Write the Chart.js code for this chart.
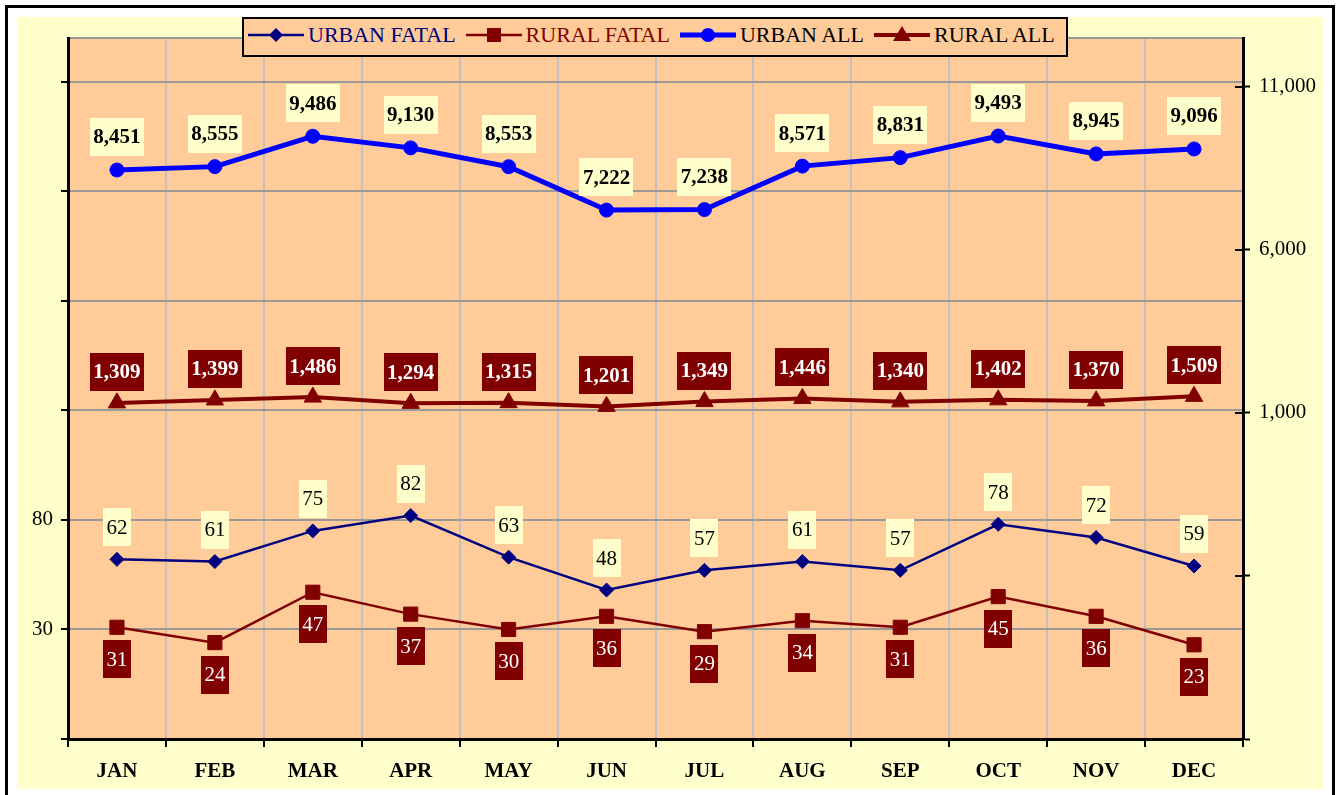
<!DOCTYPE html>
<html><head><meta charset="utf-8">
<script src="https://cdn.jsdelivr.net/npm/chart.js@4.4.1/dist/chart.umd.min.js"></script>
<style>
html,body{margin:0;padding:0;background:#fff;width:1336px;height:795px;overflow:hidden;}
#wrap{position:relative;width:1336px;height:795px;}
#c{position:absolute;left:0;top:0;}
#legend{position:absolute;left:242px;top:17px;width:818px;height:36px;border:2px solid #000;background:#FFCC99;
  font-family:"Liberation Serif","Times New Roman",serif;font-size:22px;display:flex;align-items:flex-start;padding-left:4px;box-sizing:content-box;overflow:hidden;}
#legend .item{display:flex;align-items:center;height:24px;margin-top:4px;margin-right:10px;white-space:nowrap;}
#legend svg{display:block;margin-right:4px;}
</style>
</head><body>
<div id="wrap">
<canvas id="c" width="1336" height="795"></canvas>
<div id="legend"></div>
</div>
<script>
const MONTHS = ['JAN','FEB','MAR','APR','MAY','JUN','JUL','AUG','SEP','OCT','NOV','DEC'];
const URBAN_FATAL = [62,61,75,82,63,48,57,61,57,78,72,59];
const RURAL_FATAL = [31,24,47,37,30,36,29,34,31,45,36,23];
const URBAN_ALL = [8451,8555,9486,9130,8553,7222,7238,8571,8831,9493,8945,9096];
const RURAL_ALL = [1309,1399,1486,1294,1315,1201,1349,1446,1340,1402,1370,1509];
const SERIES_NAMES = ['URBAN FATAL','RURAL FATAL','URBAN ALL','RURAL ALL'];
const LEFT_TICKS = [-20,30,80,130,180,230,280,300];
const LEFT_LABELS = [30,80];
const RIGHT_TICKS = [-9000,-4000,1000,6000,11000];
const RIGHT_LABELS = [1000,6000,11000];

const FONT = '"Liberation Serif","Times New Roman",serif';
const NAVY='#000080', DRED='#800000', BLUE='#0000FF';

const styles = [
  {color:NAVY, width:2.5, point:'rectRot', radius:7, text:NAVY,  lbBg:'#FFFFCC', lbColor:'#000', lbWeight:'normal', lbPos:'above', gap:13},
  {color:DRED, width:2.5, point:'rect',    radius:10, text:DRED, lbBg:DRED, lbColor:'#fff', lbWeight:'normal', lbPos:'below', gap:13},
  {color:BLUE, width:5,   point:'circle',  radius:7, text:'#000', lbBg:'#FFFFCC', lbColor:'#000', lbWeight:'bold', lbPos:'above', gap:14},
  {color:DRED, width:4,   point:'triangle',radius:10, text:'#000', lbBg:DRED, lbColor:'#fff', lbWeight:'bold', lbPos:'above', gap:12}
];
const seriesData = [URBAN_FATAL, RURAL_FATAL, URBAN_ALL, RURAL_ALL];
const axisIds = ['y','y','y1','y1'];

// HTML legend
const legendEl = document.getElementById('legend');
const markerSvg = (s) => {
  let m = '';
  if (s.point==='rectRot') m = '<polygon points="28,5 35,12 28,19 21,12" fill="'+s.color+'"/>';
  else if (s.point==='rect') m = '<rect x="21" y="5" width="14" height="14" fill="'+s.color+'"/>';
  else if (s.point==='circle') m = '<circle cx="28" cy="12" r="7" fill="'+s.color+'"/>';
  else m = '<polygon points="28,3 37,18 19,18" fill="'+s.color+'"/>';
  return '<svg width="56" height="24"><line x1="0" y1="12" x2="56" y2="12" stroke="'+s.color+'" stroke-width="'+s.width+'"/>'+m+'</svg>';
};
SERIES_NAMES.forEach((n,i)=>{
  const d = document.createElement('div'); d.className='item';
  d.innerHTML = markerSvg(styles[i]) + '<span style="color:'+styles[i].text+'">'+n+'</span>';
  legendEl.appendChild(d);
});

const framePlugin = {
  id:'frame',
  beforeDraw(chart){
    const ctx = chart.ctx, a = chart.chartArea;
    ctx.save();
    ctx.fillStyle='#fff'; ctx.fillRect(0,0,chart.width,chart.height);
    ctx.strokeStyle='#000'; ctx.lineWidth=3; ctx.strokeRect(6.5,6.5,1327,800);
    ctx.fillStyle='#FFFFCC'; ctx.fillRect(17,17,1306,772);
    ctx.fillStyle='#FFCC99'; ctx.fillRect(a.left,a.top,a.right-a.left,a.bottom-a.top);
    ctx.restore();
  },
  afterDraw(chart){
    const ctx = chart.ctx, s = chart.scales.y1;
    ctx.save(); ctx.strokeStyle='#000'; ctx.lineWidth=2;
    s.ticks.forEach(t=>{ const y = Math.round(s.getPixelForValue(t.value));
      ctx.beginPath(); ctx.moveTo(s.left-8,y); ctx.lineTo(s.left,y); ctx.stroke(); });
    ctx.restore();
  }
};

const labelPlugin = {
  id:'vlabels',
  afterDatasetsDraw(chart){
    const ctx = chart.ctx;
    ctx.save();
    chart.data.datasets.forEach((ds,di)=>{
      const st = styles[di];
      const meta = chart.getDatasetMeta(di);
      ctx.font = st.lbWeight+' 21px '+FONT;
      meta.data.forEach((el,i)=>{
        const txt = ds.data[i].toLocaleString('en-US');
        const w = ctx.measureText(txt).width + 7, h = 38;
        const x = el.x - w/2;
        const y = st.lbPos==='above' ? el.y - st.gap - h : el.y + st.gap;
        ctx.fillStyle = st.lbBg; ctx.fillRect(Math.round(x), Math.round(y), Math.round(w), h);
        ctx.fillStyle = st.lbColor; ctx.textAlign='center'; ctx.textBaseline='middle';
        ctx.fillText(txt, el.x, y + h/2 + 1);
      });
    });
    ctx.restore();
  }
};

new Chart(document.getElementById('c'), {
  type:'line',
  data:{
    labels: MONTHS,
    datasets: SERIES_NAMES.map((n,i)=>({
      label:n, data:seriesData[i], yAxisID:axisIds[i],
      borderColor:styles[i].color, backgroundColor:styles[i].color,
      borderWidth:styles[i].width, pointStyle:styles[i].point, pointRadius:styles[i].radius,
      pointBorderWidth:1, pointBackgroundColor:styles[i].color, pointBorderColor:styles[i].color,
      tension:0, fill:false
    }))
  },
  options:{
    responsive:false, animation:false, devicePixelRatio:1,
    layout:{padding:{left:17,right:13,top:38,bottom:6}},
    plugins:{legend:{display:false}, tooltip:{enabled:false}},
    scales:{
      x:{
        offset:true,
        grid:{offset:true, color:'#C0C0C0', lineWidth:2, tickColor:'#000', tickLength:8, tickWidth:2},
        border:{color:'#000', width:3},
        ticks:{font:{family:FONT,size:21,weight:'bold'}, color:'#000', padding:12, maxRotation:0, autoSkip:false},
        afterFit:(s)=>{s.height=50;}
      },
      y:{
        position:'left', min:-20, max:300,
        afterBuildTicks:(s)=>{ s.ticks = LEFT_TICKS.map(v=>({value:v})); },
        ticks:{callback:(v)=> LEFT_LABELS.includes(v) ? String(v) : '', font:{family:FONT,size:21}, color:'#000', padding:8},
        grid:{color:(c)=> (c.tick && c.tick.value===-20) ? 'rgba(0,0,0,0)' : '#999999', lineWidth:2,
              tickColor:(c)=> (c.tick && c.tick.value===300) ? 'rgba(0,0,0,0)' : '#000', tickLength:7, tickWidth:2},
        border:{color:'#000', width:3},
        afterFit:(s)=>{s.width=51;}
      },
      y1:{
        position:'right', min:-9000, max:12500,
        afterBuildTicks:(s)=>{ s.ticks = RIGHT_TICKS.map(v=>({value:v})); },
        ticks:{callback:(v)=> RIGHT_LABELS.includes(v) ? v.toLocaleString('en-US') : '', font:{family:FONT,size:21}, color:'#000', padding:9},
        grid:{drawOnChartArea:false, tickColor:'#000', tickLength:7, tickWidth:2},
        border:{color:'#000', width:3},
        afterFit:(s)=>{s.width=80;}
      }
    }
  },
  plugins:[framePlugin, labelPlugin]
});
</script>
</body></html>
